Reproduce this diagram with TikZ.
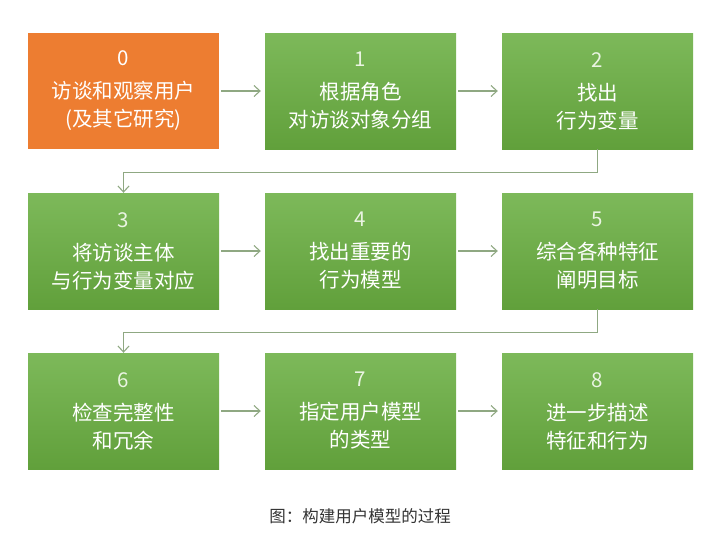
\documentclass[tikz,border=0pt]{standalone}
\usepackage{fontspec}
\setmainfont{Noto Sans CJK SC}
\usetikzlibrary{arrows.meta}
\definecolor{boxorange}{HTML}{ED7D31}
\definecolor{greentop}{HTML}{7DB95A}
\definecolor{greenbot}{HTML}{61A03B}
\definecolor{linkgray}{HTML}{8FA882}
\definecolor{numtint}{HTML}{EAF4E2}
\begin{document}
\begin{tikzpicture}[x=1pt,y=-1pt,
    stepbox/.style={minimum width=191pt,minimum height=116pt,inner sep=0pt,
      align=center,text=white,font=\fontsize{20.5}{28}\selectfont},
    greenbox/.style={stepbox,top color=greentop,bottom color=greenbot},
    orangebox/.style={stepbox,fill=boxorange},
    link/.style={draw=linkgray,line width=1.1pt,-{Straight Barb[length=6pt,width=11pt]}}]
      \useasboundingbox (0,0) rectangle (720,550);

      \node[orangebox] (s0) at (123.5,91) {{\color{white}0}\\[5pt]访谈和观察用户\\(及其它研究)};
      \node[greenbox] (s1) at (360.5,91) {{\color{numtint}1}\\[5pt]根据角色\\对访谈对象分组};
      \node[greenbox] (s2) at (597.5,91) {{\color{numtint}2}\\[5pt]找出\\行为变量};

      \node[greenbox] (s3) at (123.5,251) {{\color{numtint}3}\\[5pt]将访谈主体\\与行为变量对应};
      \node[greenbox] (s4) at (360.5,251) {{\color{numtint}4}\\[5pt]找出重要的\\行为模型};
      \node[greenbox] (s5) at (597.5,251) {{\color{numtint}5}\\[5pt]综合各种特征\\阐明目标};

      \node[greenbox] (s6) at (123.5,411) {{\color{numtint}6}\\[5pt]检查完整性\\和冗余};
      \node[greenbox] (s7) at (360.5,411) {{\color{numtint}7}\\[5pt]指定用户模型\\的类型};
      \node[greenbox] (s8) at (597.5,411) {{\color{numtint}8}\\[5pt]进一步描述\\特征和行为};

      \draw[link] ([xshift=2pt]s0.east) -- ([xshift=-4pt]s1.west);
      \draw[link] ([xshift=2pt]s1.east) -- ([xshift=-4pt]s2.west);
      \draw[link] ([xshift=2pt]s3.east) -- ([xshift=-4pt]s4.west);
      \draw[link] ([xshift=2pt]s4.east) -- ([xshift=-4pt]s5.west);
      \draw[link] ([xshift=2pt]s6.east) -- ([xshift=-4pt]s7.west);
      \draw[link] ([xshift=2pt]s7.east) -- ([xshift=-4pt]s8.west);

      \draw[link] (s2.south) -- ++(0,23) -| (s3.north);
      \draw[link] (s5.south) -- ++(0,23) -| (s6.north);

      \node[text=black!80,font=\fontsize{16.5}{20}\selectfont] (caption) at (360,516) {图：构建用户模型的过程};
\end{tikzpicture}
\end{document}
